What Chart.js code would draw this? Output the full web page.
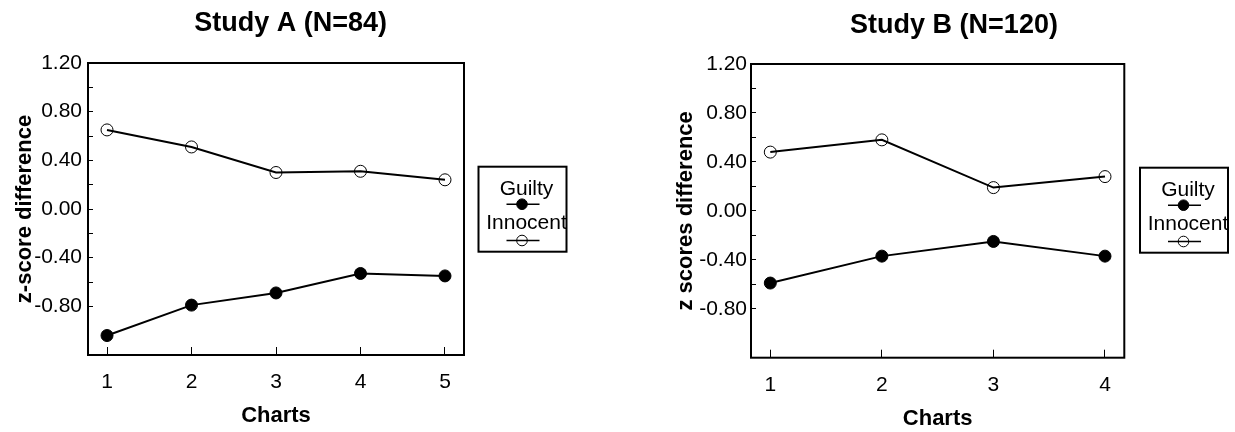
<!DOCTYPE html>
<html>
<head>
<meta charset="utf-8">
<title>Study A / Study B</title>
<script src="https://cdn.jsdelivr.net/npm/chart.js@4/dist/chart.umd.min.js"></script>
<style>
  html, body { margin: 0; padding: 0; background: #fff; }
  .box { position: absolute; top: 0; height: 432px; }
  #boxA { left: 0; width: 650px; }
  #boxB { left: 650px; width: 585px; }
</style>
</head>
<body>
<div class="box" id="boxA"><canvas id="chartA"></canvas></div>
<div class="box" id="boxB"><canvas id="chartB"></canvas></div>
<script>
// values
const chartsA = [1, 2, 3, 4, 5];
const guiltyA = [-1.04, -0.79, -0.69, -0.53, -0.55];
const innocentA = [0.65, 0.51, 0.30, 0.31, 0.24];

const chartsB = [1, 2, 3, 4];
const guiltyB = [-0.59, -0.37, -0.25, -0.37];
const innocentB = [0.48, 0.58, 0.19, 0.28];

const yTickValues = [-0.8, -0.6, -0.4, -0.2, 0, 0.2, 0.4, 0.6, 0.8, 1.0, 1.2];
const yLabelValues = [-0.8, -0.4, 0, 0.4, 0.8, 1.2];
const yLabelText = ["-0.80", "-0.40", "0.00", "0.40", "0.80", "1.20"];

const seriesNames = ["Guilty", "Innocent"];

Chart.defaults.font.family = '"Liberation Sans", Arial, sans-serif';
Chart.defaults.color = "#000";

// frame round the plot, the title above it and the boxed legend
const frameAndLegend = {
  id: "frameAndLegend",
  afterDraw(chart, args, o) {
    const { ctx, chartArea: a } = chart;
    ctx.save();
    ctx.strokeStyle = "#000";
    ctx.fillStyle = "#000";
    ctx.lineWidth = 2;
    ctx.strokeRect(a.left, a.top, a.right - a.left, a.bottom - a.top);

    ctx.font = 'bold 27px "Liberation Sans", Arial, sans-serif';
    ctx.textAlign = "center";
    ctx.textBaseline = "alphabetic";
    ctx.fillText(o.title, o.titleX, o.titleY);

    const L = o.legendX, T = o.legendY;
    ctx.lineWidth = 2;
    ctx.strokeRect(L, T, 88, 85);
    ctx.font = '21px "Liberation Sans", Arial, sans-serif';
    ctx.fillText(seriesNames[0], L + 48, T + 28.5);
    ctx.fillText(seriesNames[1], L + 48, T + 62.5);

    [37.5, 73.8].forEach((dy, i) => {
      ctx.lineWidth = 1.5;
      ctx.beginPath();
      ctx.moveTo(L + 28, T + dy);
      ctx.lineTo(L + 61, T + dy);
      ctx.stroke();
      ctx.beginPath();
      ctx.arc(L + 43.5, T + dy, 5.3, 0, Math.PI * 2);
      ctx.lineWidth = 1;
      if (i === 0) ctx.fill();
      ctx.stroke();
    });
    ctx.restore();
  }
};

function makeChart(id, cats, guilty, innocent, s) {
  const ctx = document.getElementById(id).getContext("2d");
  return new Chart(ctx, {
    type: "line",
    data: {
      datasets: [
        {
          label: seriesNames[0],
          data: cats.map((c, i) => ({ x: c, y: guilty[i] })),
          borderColor: "#000",
          borderWidth: 2,
          pointRadius: 6,
          pointBackgroundColor: "#000",
          pointBorderColor: "#000",
          pointBorderWidth: 1,
          tension: 0
        },
        {
          label: seriesNames[1],
          data: cats.map((c, i) => ({ x: c, y: innocent[i] })),
          borderColor: "#000",
          borderWidth: 2,
          pointRadius: 6,
          pointBackgroundColor: "rgba(0,0,0,0)",
          pointBorderColor: "#000",
          pointBorderWidth: 1,
          tension: 0
        }
      ]
    },
    options: {
      responsive: true,
      maintainAspectRatio: false,
      animation: false,
      layout: { padding: { left: 0, right: s.padRight, top: s.top, bottom: 0 } },
      plugins: {
        legend: { display: false },
        tooltip: { enabled: false },
        frameAndLegend: {
          title: s.title, titleX: s.titleX, titleY: s.titleY,
          legendX: s.legendX, legendY: s.legendY
        }
      },
      scales: {
        x: {
          type: "linear",
          min: s.xMin,
          max: s.xMax,
          afterBuildTicks: (sc) => { sc.ticks = cats.map((v) => ({ value: v })); },
          afterFit: (sc) => { sc.height = s.xHeight; },
          border: { display: false },
          grid: { drawOnChartArea: false, drawTicks: true, tickLength: -8, color: "#000", lineWidth: 1 },
          ticks: { autoSkip: false, maxRotation: 0, padding: 23, font: { size: 21 }, callback: (v) => String(v) },
          title: {
            display: true, text: "Charts",
            font: { size: 22, weight: "bold" },
            padding: { top: 0, bottom: s.xTitlePad }
          }
        },
        y: {
          min: -1.2,
          max: 1.2,
          afterBuildTicks: (sc) => { sc.ticks = yTickValues.map((v) => ({ value: v })); },
          afterFit: (sc) => { sc.width = s.yWidth; },
          border: { display: false },
          grid: { drawOnChartArea: false, drawTicks: true, tickLength: -5, color: "#000", lineWidth: 1 },
          ticks: {
            autoSkip: false,
            padding: s.yTickPad,
            font: { size: 21 },
            callback: (v) => {
              const k = yLabelValues.findIndex((w) => Math.abs(w - v) < 1e-9);
              return k >= 0 ? yLabelText[k] : "";
            }
          },
          title: {
            display: true, text: s.yTitle,
            font: { size: 22, weight: "bold" },
            padding: { top: s.yTitlePad, bottom: 0 }
          }
        }
      }
    },
    plugins: [frameAndLegend]
  });
}

makeChart("chartA", chartsA, guiltyA, innocentA, {
  title: "Study A (N=84)", titleX: 290.7, titleY: 30.5,
  yTitle: "z-score difference",
  xMin: 0.775, xMax: 5.225,
  top: 63, padRight: 186, yWidth: 88, xHeight: 77,
  yTickPad: 11, yTitlePad: 12, xTitlePad: 3,
  legendX: 478.5, legendY: 166.7
});

makeChart("chartB", chartsB, guiltyB, innocentB, {
  title: "Study B (N=120)", titleX: 304, titleY: 32.5,
  yTitle: "z scores difference",
  xMin: 0.827, xMax: 4.173,
  top: 64, padRight: 110.7, yWidth: 101, xHeight: 74.3,
  yTickPad: 9, yTitlePad: 22.5, xTitlePad: 0,
  legendX: 490, legendY: 167.7
});
</script>
</body>
</html>
